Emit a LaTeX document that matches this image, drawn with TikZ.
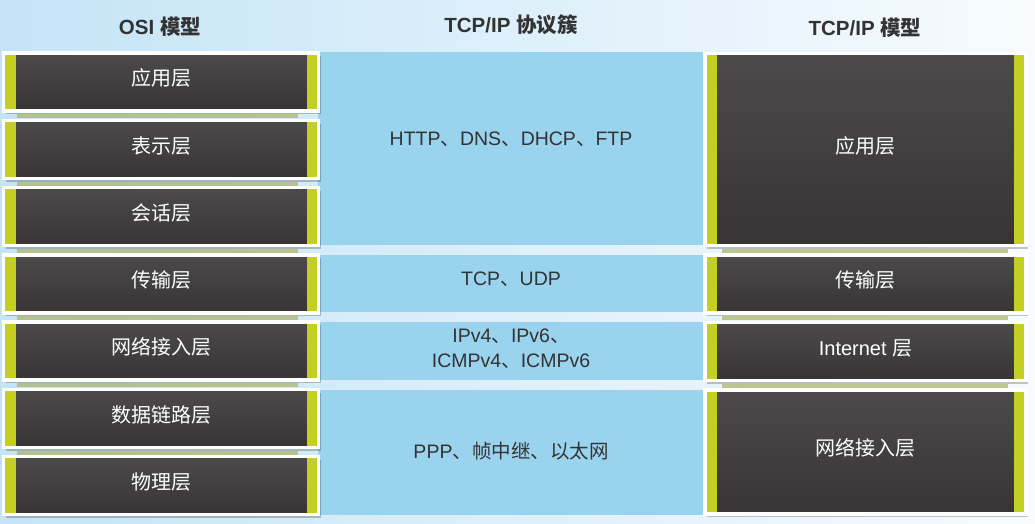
\documentclass[tikz,border=0pt]{standalone}
\usepackage{fontspec}
\setmainfont{Liberation Sans}
\newfontfamily\cjk{Noto Sans CJK SC}
\usetikzlibrary{shadows}
\definecolor{barcol}{RGB}{195,207,34}
\definecolor{boxtop}{RGB}{76,74,75}
\definecolor{boxbot}{RGB}{56,52,53}
\definecolor{bandcol}{RGB}{154,211,238}
\definecolor{bgleft}{RGB}{196,228,246}
\definecolor{bgright}{RGB}{247,251,254}
\definecolor{txtdark}{RGB}{51,51,51}
\definecolor{olivestrip}{RGB}{172,178,98}
\tikzset{
  layerbox/.style={minimum height=#1, inner sep=0pt, top color=boxtop, bottom color=boxbot,
    draw=white, line width=3.5pt,
    drop shadow={shadow xshift=2pt, shadow yshift=-3pt, opacity=0.22, fill=black},
    text=white, font=\fontsize{20}{23}\selectfont, text height=14pt, text depth=7pt,
    path picture={
      \fill[barcol] (path picture bounding box.north west) rectangle ([xshift=12pt]path picture bounding box.south west);
      \fill[barcol] (path picture bounding box.north east) rectangle ([xshift=-12pt]path picture bounding box.south east);}},
  osibox/.style={layerbox=#1, minimum width=315pt},
  tcpbox/.style={layerbox=#1, minimum width=321pt},
  band/.style={fill=bandcol, draw=none, inner sep=0pt, minimum width=388pt, minimum height=#1},
  bandtext/.style={text=txtdark, font=\fontsize{19.5}{25}\selectfont, align=center, inner sep=0pt},
  title/.style={text=txtdark, font=\fontsize{20.5}{23}\selectfont\bfseries, inner sep=0pt},
  strip/.style={fill=olivestrip, opacity=0.7},
}
\begin{document}
\begin{tikzpicture}[x=1pt, y=-1pt]
\useasboundingbox (0,0) rectangle (1035,523);
\shade[left color=bgleft, right color=bgright] (0,0) rectangle (1035,523);

% titles
\node[title] (t1) at (160,27) {OSI {\cjk 模型}};
\node[title] (t2) at (511,25) {TCP/IP {\cjk 协议簇}};
\node[title] (t3) at (865,28) {TCP/IP {\cjk 模型}};

% protocol bands
\node[band=193] (b1) at (512,148.5) {};
\node[band=57]  (b2) at (512,283.5) {};
\node[band=58]  (b3) at (512,351) {};
\node[band=125] (b4) at (512,452.5) {};

\node[bandtext] (p1) at (511,139.5) {HTTP{\cjk 、}DNS{\cjk 、}DHCP{\cjk 、}FTP};
\node[bandtext] (p2) at (511,279.5) {TCP{\cjk 、}UDP};
\node[bandtext] (p3) at (511,349) {IPv4{\cjk 、}IPv6{\cjk 、}\\ICMPv4{\cjk 、}ICMPv6};
\node[bandtext] (p4) at (511,451.5) {PPP{\cjk 、帧中继、以太网}};

% reflections under boxes
\foreach \yy in {82,149.5,216.5,284,351,418.5}{
  \fill[strip] (17,\yy+32) rectangle (298,\yy+36);
}
\foreach \yy/\hh in {149.5/192,284/58,351.5/58}{
  \fill[strip] (722,\yy+\hh/2+3) rectangle (1008,\yy+\hh/2+7);
}

% OSI model
\node[osibox=58] (o1) at (161,82)    {\cjk 应用层};
\node[osibox=58] (o2) at (161,149.5) {\cjk 表示层};
\node[osibox=58] (o3) at (161,216.5) {\cjk 会话层};
\node[osibox=58] (o4) at (161,284)   {\cjk 传输层};
\node[osibox=58] (o5) at (161,351)   {\cjk 网络接入层};
\node[osibox=58] (o6) at (161,418.5) {\cjk 数据链路层};
\node[osibox=58] (o7) at (161,485.5) {\cjk 物理层};

% TCP/IP model
\node[tcpbox=192] (m1) at (865.5,149.5) {\cjk 应用层};
\node[tcpbox=58]  (m2) at (865.5,284)   {\cjk 传输层};
\node[tcpbox=58]  (m3) at (865.5,351.5) {Internet {\cjk 层}};
\node[tcpbox=124] (m4) at (865.5,452)   {\cjk 网络接入层};
\end{tikzpicture}
\end{document}
